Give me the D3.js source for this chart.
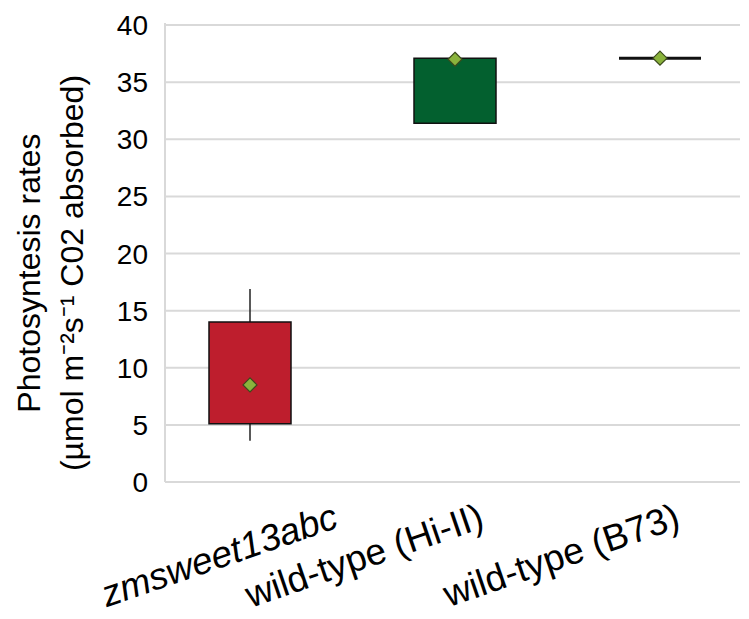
<!DOCTYPE html>
<html>
<head>
<meta charset="utf-8">
<script src="https://cdn.jsdelivr.net/npm/d3@7"></script>
<style>
  body { margin: 0; background: #fff; }
  text { font-family: "Liberation Sans", Arial, sans-serif; fill: #000; }
</style>
</head>
<body>
<div id="chart"></div>
<script>
// values
const categories = ["zmsweet13abc", "wild-type (Hi-II)", "wild-type (B73)"];
const boxLow = [5.1, 31.4, 37.1];
const boxHigh = [14.0, 37.1, 37.1];
const whiskerLow = [3.6, 31.4, 37.1];
const whiskerHigh = [16.9, 37.1, 37.1];
const means = [8.5, 37.0, 37.1];
const yTicks = [0, 5, 10, 15, 20, 25, 30, 35, 40];

const colors = ["#be1e2d", "#03602f", "#03602f"];
const labelDx = [90, 31, 22];   // label end offsets from the box centre

const width = 749, height = 619;
const plot = { left: 165, right: 740, top: 25, bottom: 482 };

const svg = d3.select("#chart").append("svg")
  .attr("width", width)
  .attr("height", height);

const y = d3.scaleLinear().domain([0, 40]).range([plot.bottom, plot.top]);
const x = d3.scaleBand().domain(categories).range([209, 701])
  .paddingInner(0.6).paddingOuter(0);

// gridlines
svg.append("g")
  .selectAll("line")
  .data(yTicks)
  .enter().append("line")
  .attr("x1", plot.left)
  .attr("x2", plot.right)
  .attr("y1", d => y(d))
  .attr("y2", d => y(d))
  .style("stroke", "#d9d9d9")
  .style("stroke-width", 2);

// y axis line
svg.append("line")
  .attr("x1", plot.left).attr("x2", plot.left)
  .attr("y1", plot.top - 2).attr("y2", plot.bottom)
  .style("stroke", "#d9d9d9")
  .style("stroke-width", 2);

// y tick labels
svg.append("g")
  .selectAll("text")
  .data(yTicks)
  .enter().append("text")
  .attr("x", 148)
  .attr("y", d => y(d))
  .attr("dy", "0.36em")
  .attr("text-anchor", "end")
  .style("font-size", "28px")
  .text(d => d);

// y title
const title = svg.append("text")
  .attr("transform", "translate(40,273) rotate(-90)")
  .attr("text-anchor", "middle")
  .style("font-size", "32px");
title.append("tspan").attr("x", 0).attr("y", 0).text("Photosyntesis rates");
title.append("tspan").attr("x", 0).attr("y", 43).text("(µmol m⁻²s⁻¹ C02 absorbed)");

const boxes = categories.map((c, i) => ({
  c, i, low: boxLow[i], high: boxHigh[i],
  wl: whiskerLow[i], wh: whiskerHigh[i], mean: means[i]
}));

const cx = d => x(d.c) + x.bandwidth() / 2;

// whiskers
svg.append("g").selectAll("line.up")
  .data(boxes)
  .enter().append("line")
  .attr("x1", cx).attr("x2", cx)
  .attr("y1", d => y(d.wh)).attr("y2", d => y(d.high))
  .style("stroke", "#222").style("stroke-width", 1.5);
svg.append("g").selectAll("line.down")
  .data(boxes)
  .enter().append("line")
  .attr("x1", cx).attr("x2", cx)
  .attr("y1", d => y(d.low)).attr("y2", d => y(d.wl))
  .style("stroke", "#222").style("stroke-width", 1.5);

// boxes (a flat box is drawn as a thick line)
svg.append("g").selectAll("path")
  .data(boxes)
  .enter().append("path")
  .attr("d", d => {
    const x0 = x(d.c), x1 = x0 + x.bandwidth();
    const y0 = y(d.high), y1 = y(d.low);
    return d.high === d.low
      ? `M${x0},${y0}H${x1}`
      : `M${x0},${y0}H${x1}V${y1}H${x0}Z`;
  })
  .style("fill", d => colors[d.i])
  .style("stroke", "#111")
  .style("stroke-width", d => d.high === d.low ? 3 : 1.5);

// mean markers
const diamond = r => `M0,${-r}L${r},0L0,${r}L${-r},0Z`;
svg.append("g").selectAll("path")
  .data(boxes)
  .enter().append("path")
  .attr("d", diamond(7))
  .attr("transform", d => `translate(${cx(d)},${y(d.mean)})`)
  .style("fill", "#8ab33c")
  .style("stroke", "#3b4a1c")
  .style("stroke-width", 1.2);

// x labels
svg.append("g").selectAll("text")
  .data(boxes)
  .enter().append("text")
  .attr("text-anchor", "end")
  .attr("transform", d => `translate(${cx(d) + labelDx[d.i]},527) rotate(-19)`)
  .style("font-size", "37px")
  .style("font-style", d => d.i === 0 ? "italic" : "normal")
  .text(d => d.c);
</script>
</body>
</html>
